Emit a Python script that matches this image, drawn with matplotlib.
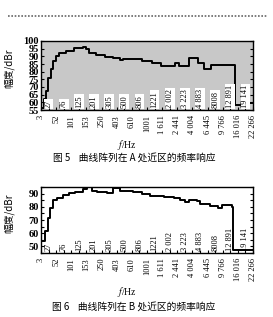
import matplotlib
matplotlib.use("Agg")
import matplotlib.pyplot as plt
from matplotlib.lines import Line2D
from matplotlib.ticker import MultipleLocator

plt.rcParams['font.family'] = ['Liberation Serif', 'Noto Sans CJK SC']
plt.rcParams['mathtext.fontset'] = 'stix'

# band edge frequencies (Hz); even ones go below the axis, odd ones inside
freq_labels = ["3", "27", "52", "76", "101", "125", "153", "201", "250", "305",
               "403", "500", "610", "806", "1001", "1221", "1 611", "2 002",
               "2 441", "3 223", "4 004", "4 883", "6 445", "8008", "9 766",
               "12 891", "16 016", "19 141", "22 266"]

# curve A: band index where each step starts, and the level (dBr) of that step
a_pos = [0, 0.45, 0.66, 0.98, 1.32, 1.55, 1.98, 2.43, 3.3, 4.4, 5.5, 5.95,
         6.4, 7.27, 8.4, 9.5, 10.4, 10.8, 13.3, 14.6, 15.9, 17.7, 18.2, 19.6,
         20.7, 21.5, 22.5, 25.6, 27.3, 28]
a_lvl = [56.6, 62, 67.5, 76, 81.5, 87, 90.3, 92.5, 93.6, 95.2, 96.3, 94.8,
         92.5, 91, 89.8, 88.9, 87.6, 88.3, 87.1, 85.8, 83.7, 85.4, 83.7, 88.7,
         85.4, 81.5, 84.3, 58.2, 59.3]

# curve B
b_pos = [0, 0.55, 0.95, 1.2, 1.62, 2.15, 2.87, 3.7, 4.5, 5.6, 6.04, 6.7,
         7.36, 8.7, 9.55, 10.4, 12.2, 13.3, 14.4, 16.2, 17.5, 18.4, 19.0,
         19.5, 20.6, 21.0, 22.3, 23.4, 23.9, 25.2, 25.4, 28]
b_lvl = [54, 62, 71.5, 79, 85, 87, 89, 90.5, 91.5, 93.2, 94.8, 92.2,
         91.2, 90.5, 94, 92.2, 91, 89.5, 88.5, 87.5, 86.5, 85.5, 84,
         85.5, 84.5, 82.5, 80.5, 79, 81, 79.5, 47.5]


def draw(ax, pos, lvl, ylo, yhi, lab_step, tick_step, face, boxed):
    ax.set_facecolor(face)
    ax.step(pos, lvl + [lvl[-1]], where='post', color='black', lw=1.4)
    ax.set_xlim(0, len(freq_labels) - 1)
    ax.set_ylim(ylo, yhi)
    ax.set_xticks(range(len(freq_labels)))
    ax.set_xticklabels([t if i % 2 == 0 else "" for i, t in enumerate(freq_labels)],
                       rotation=90, fontsize=6)
    ax.yaxis.set_major_locator(MultipleLocator(lab_step))
    ax.yaxis.set_minor_locator(MultipleLocator(tick_step))
    ax.tick_params(axis='y', which='both', direction='in', left=True, right=True,
                   length=2.5, width=0.8, pad=1.5)
    ax.tick_params(axis='y', labelsize=7.5)
    ax.tick_params(axis='x', direction='in', length=2, width=0.8, pad=3.5)
    for t in ax.get_yticklabels():
        t.set_fontweight('bold')
    for s in ax.spines.values():
        s.set_linewidth(1.0)
    for i, t in enumerate(freq_labels):
        if i % 2 == 1:
            box = dict(facecolor='white', edgecolor='none', pad=0.6) if boxed else None
            ax.text(i, ylo + (yhi - ylo) * 0.03, t, rotation=90, ha='center',
                    va='bottom', fontsize=6, bbox=box)
    ax.set_ylabel("幅度/dBr", family=['Noto Sans CJK SC'], fontsize=7)
    ax.yaxis.set_label_coords(-0.125, 0.6)


fig = plt.figure(figsize=(2.73, 3.17), dpi=100)
W, H = 273, 317

ax1 = fig.add_axes([41 / W, 1 - 110 / H, 212 / W, 69 / H])
draw(ax1, a_pos, a_lvl, 55, 100, 5, 5, '#c8c8c8', True)

ax2 = fig.add_axes([41 / W, 1 - 253 / H, 212 / W, 66 / H])
draw(ax2, b_pos, b_lvl, 45, 95, 10, 5, 'white', False)

fig.text(127 / W, 1 - 145 / H, "$f$/Hz", ha='center', va='center', fontsize=7)
fig.text(127 / W, 1 - 292 / H, "$f$/Hz", ha='center', va='center', fontsize=7)

fig.text(134 / W, 1 - 158 / H, "图 5    曲线阵列在 A 处近区的频率响应",
         family=['Noto Sans CJK SC'], ha='center', va='center', fontsize=7)
fig.text(134 / W, 1 - 307 / H, "图 6    曲线阵列在 B 处近区的频率响应",
         family=['Noto Sans CJK SC'], ha='center', va='center', fontsize=7)

# dotted page rule at the top of the scan
fig.add_artist(Line2D([8 / W, 268 / W], [1 - 16 / H, 1 - 16 / H], color='#666666',
                      lw=1.2, linestyle=(0, (1, 1))))

fig.savefig("out.png", dpi=100)
